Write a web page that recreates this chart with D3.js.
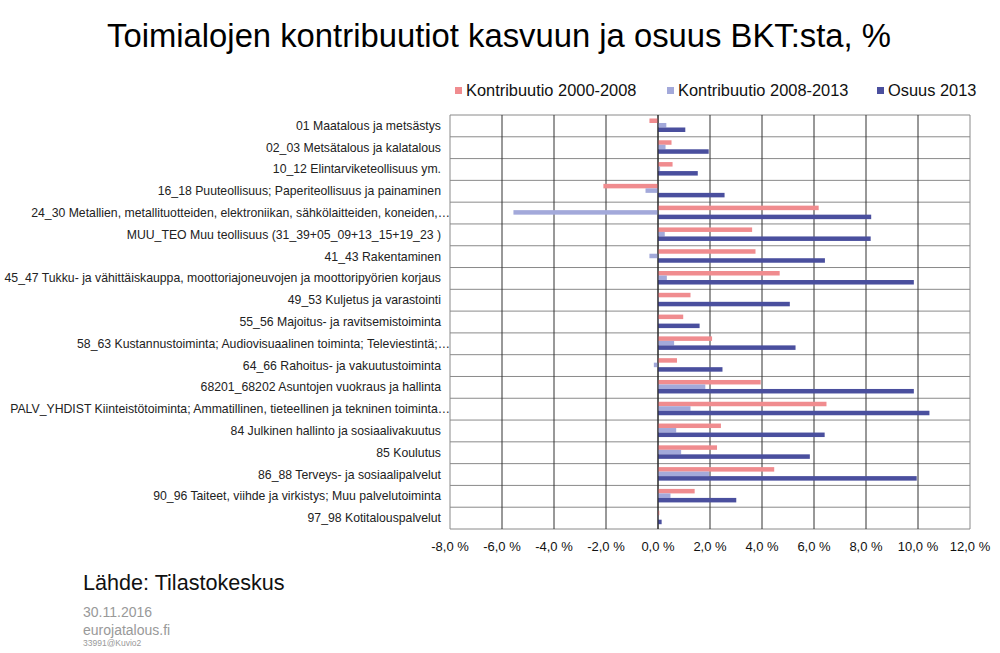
<!DOCTYPE html>
<html>
<head>
<meta charset="utf-8">
<script src="https://cdn.jsdelivr.net/npm/d3@7"></script>
<style>
  body { margin: 0; background: #fff; }
  svg { font-family: "Liberation Sans", Arial, sans-serif; }
</style>
</head>
<body>
<div id="chart"></div>
<script>
// categories, top to bottom
let categories = [
    "01 Maatalous ja metsästys",
    "02_03 Metsätalous ja kalatalous",
    "10_12 Elintarviketeollisuus ym.",
    "16_18 Puuteollisuus; Paperiteollisuus ja painaminen",
    "24_30 Metallien, metallituotteiden, elektroniikan, sähkölaitteiden, koneiden,…",
    "MUU_TEO Muu teollisuus (31_39+05_09+13_15+19_23 )",
    "41_43 Rakentaminen",
    "45_47 Tukku- ja vähittäiskauppa, moottoriajoneuvojen ja moottoripyörien korjaus",
    "49_53 Kuljetus ja varastointi",
    "55_56 Majoitus- ja ravitsemistoiminta",
    "58_63 Kustannustoiminta; Audiovisuaalinen toiminta; Televiestintä;…",
    "64_66 Rahoitus- ja vakuutustoiminta",
    "68201_68202 Asuntojen vuokraus ja hallinta",
    "PALV_YHDIST Kiinteistötoiminta; Ammatillinen, tieteellinen ja tekninen toiminta…",
    "84 Julkinen hallinto ja sosiaalivakuutus",
    "85 Koulutus",
    "86_88 Terveys- ja sosiaalipalvelut",
    "90_96 Taiteet, viihde ja virkistys; Muu palvelutoiminta",
    "97_98 Kotitalouspalvelut"
];

let contrib2000_2008 = [-0.33, 0.52, 0.56, -2.10, 6.18, 3.62, 3.75, 4.68, 1.25, 0.97,
    2.08, 0.73, 3.95, 6.48, 2.42, 2.27, 4.47, 1.41, 0.05];
let contrib2008_2013 = [0.32, 0.29, 0.08, -0.48, -5.56, 0.26, -0.33, 0.34, 0.02, 0.03,
    0.62, -0.16, 1.82, 1.25, 0.70, 0.89, 1.96, 0.48, 0.02];
let share2013 = [1.05, 1.95, 1.53, 2.56, 8.20, 8.18, 6.42, 9.84, 5.07, 1.60,
    5.29, 2.48, 9.84, 10.44, 6.41, 5.84, 9.95, 3.01, 0.14];

let seriesNames = ["Kontribuutio 2000-2008", "Kontribuutio 2008-2013", "Osuus 2013"];
let xTicks = [-8, -6, -4, -2, 0, 2, 4, 6, 8, 10, 12];

let colors = ["#f08c8f", "#a3a9da", "#4a4f9e"];
let series = [contrib2000_2008, contrib2008_2013, share2013];

let width = 1000, height = 653;
let margin = { top: 115, right: 30, bottom: 124, left: 450 };
let innerW = width - margin.left - margin.right,
    innerH = height - margin.top - margin.bottom;

let svg = d3.select("#chart")
    .append("svg")
    .attr("width", width)
    .attr("height", height);

// title
svg.append("text")
    .attr("x", 499)
    .attr("y", 47)
    .attr("text-anchor", "middle")
    .attr("font-size", "32.8px")
    .attr("fill", "#000")
    .text("Toimialojen kontribuutiot kasvuun ja osuus BKT:sta, %");

let g = svg.append("g")
    .attr("transform", "translate(" + margin.left + "," + margin.top + ")");

let x = d3.scaleLinear()
    .domain([-8, 12])
    .range([0, innerW]);

let y = d3.scaleBand()
    .domain(categories)
    .range([0, innerH]);

let sub = d3.scaleBand()
    .domain([0, 1, 2])
    .range([y.bandwidth() * 0.16, y.bandwidth() * 0.78]);

// horizontal grid lines (row separators)
g.selectAll(".hgrid")
    .data(d3.range(categories.length + 1))
    .enter()
    .append("line")
    .attr("x1", 0)
    .attr("x2", innerW)
    .attr("y1", function (d) { return d * y.step(); })
    .attr("y2", function (d) { return d * y.step(); })
    .attr("stroke", "#8a8a8a")
    .attr("stroke-width", 1);

// vertical grid lines
g.selectAll(".vgrid")
    .data(xTicks)
    .enter()
    .append("line")
    .attr("x1", function (d) { return x(d); })
    .attr("x2", function (d) { return x(d); })
    .attr("y1", 0)
    .attr("y2", innerH)
    .attr("stroke", function (d) { return (d === -8 || d === 12) ? "#8a8a8a" : "#333"; })
    .attr("stroke-width", 1);

// bars
series.forEach(function (vals, si) {
    g.selectAll(".bar" + si)
        .data(vals)
        .enter()
        .append("rect")
        .attr("x", function (d) { return x(Math.min(0, d)); })
        .attr("y", function (d, i) { return y(categories[i]) + sub(si); })
        .attr("width", function (d) { return Math.abs(x(d) - x(0)); })
        .attr("height", sub.bandwidth())
        .attr("fill", colors[si]);
});

// zero line on top
g.append("line")
    .attr("x1", x(0)).attr("x2", x(0))
    .attr("y1", 0).attr("y2", innerH)
    .attr("stroke", "#222");

// category labels
g.selectAll(".cat")
    .data(categories)
    .enter()
    .append("text")
    .attr("x", function (d) { return d.endsWith("…") ? 0 : -9; })
    .attr("y", function (d) { return y(d) + y.bandwidth() / 2 + 4; })
    .attr("text-anchor", "end")
    .attr("font-size", "12.25px")
    .attr("fill", "#222")
    .text(function (d) { return d; });

// x tick labels
g.selectAll(".xt")
    .data(xTicks)
    .enter()
    .append("text")
    .attr("x", function (d) { return x(d); })
    .attr("y", innerH + 22)
    .attr("text-anchor", "middle")
    .attr("font-size", "13px")
    .attr("fill", "#111")
    .text(function (d) { return d3.format(".1f")(d).replace("−", "-").replace(".", ",") + " %"; });

// legend
let legendX = [455, 667, 877];
let legend = svg.selectAll(".legend")
    .data(seriesNames)
    .enter()
    .append("g")
    .attr("transform", function (d, i) { return "translate(" + legendX[i] + ",91)"; });
legend.append("rect")
    .attr("x", 0).attr("y", -4)
    .attr("width", 7).attr("height", 7)
    .attr("fill", function (d, i) { return colors[i]; });
legend.append("text")
    .attr("x", 11).attr("y", 5)
    .attr("font-size", "16.4px")
    .attr("fill", "#111")
    .text(function (d) { return d; });

// source and footer
svg.append("text")
    .attr("x", 83).attr("y", 590)
    .attr("font-size", "21.6px")
    .attr("fill", "#111")
    .text("Lähde: Tilastokeskus");
svg.append("text")
    .attr("x", 83).attr("y", 617)
    .attr("font-size", "14px")
    .attr("fill", "#999")
    .text("30.11.2016");
svg.append("text")
    .attr("x", 83).attr("y", 635)
    .attr("font-size", "14px")
    .attr("fill", "#999")
    .text("eurojatalous.fi");
svg.append("text")
    .attr("x", 83).attr("y", 646)
    .attr("font-size", "8.5px")
    .attr("fill", "#999")
    .text("33991@Kuvio2");
</script>
</body>
</html>
